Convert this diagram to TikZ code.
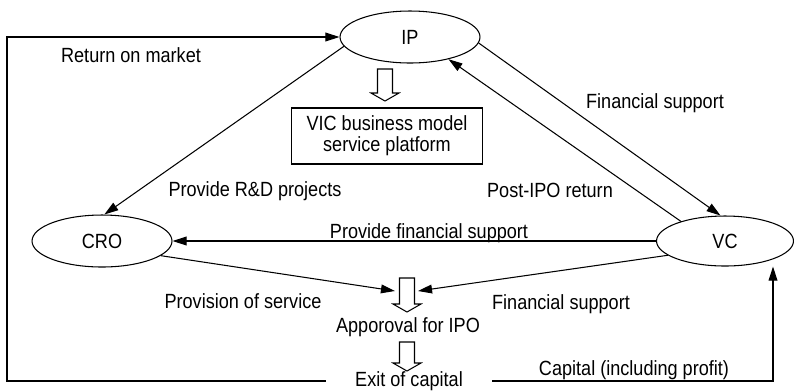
\documentclass[tikz,border=0pt]{standalone}
\usepackage{fontspec}
\setmainfont{Liberation Sans}[FakeStretch=0.88]
\usetikzlibrary{shapes.geometric,arrows.meta,calc}

% down-pointing hollow block arrow, #1 = length
\tikzset{
  pics/hollowdown/.style={code={
    \draw (-7.5,0) -- (-7.5,#1-8) -- (-14,#1-8) -- (0,#1) -- (14,#1-8) -- (7.5,#1-8) -- (7.5,0) -- cycle;
    \coordinate (-l) at (-12,13);
    \coordinate (-r) at (11,13);
  }}
}

\begin{document}
\begin{tikzpicture}[x=0.02cm,y=-0.02cm,line width=0.6pt,>={Triangle[length=8pt,width=5pt]},
    font=\fontsize{11.7}{12}\selectfont,
    party/.style={ellipse,draw,minimum width=2.8cm,minimum height=1.04cm,inner sep=0pt},
    lbl/.style={inner sep=0pt}]
  \useasboundingbox (0,0) rectangle (794,390);

  % actors
  \node[party] (ip) at (410,37) {IP};
  \node[party] (cro) at (102,241) {CRO};
  \node[party,minimum width=2.74cm,minimum height=1cm] (vc) at (725,241) {VC};
  \node[draw,align=center,minimum width=3.82cm,minimum height=1.12cm,inner sep=0pt] (vic) at (387,136)
    {VIC business model\\service platform};

  % flow of the IPO
  \pic (b1) at (385,69) {hollowdown=32};
  \pic (a1) at (407,278) {hollowdown=34};
  \pic (a2) at (407,342) {hollowdown=29};
  \node[lbl] (appr) at (408,327) {Apporoval for IPO};
  \node[lbl,inner xsep=0.58cm] (exit) at (409,381) {Exit of capital};
  \coordinate (corner) at (7,381);

  % connectors
  \draw[->] (exit.west) -- (corner) |- (ip.west);
  \draw[->] (exit.east) -| ($(vc.south)+(48,0)$);
  \draw[->] (ip.188) -- (cro.85);
  \draw[->] (ip.355) -- (vc.100);
  \draw[->] (vc.156) -- (ip.330);
  \draw[->] (vc.west) -- (cro.east);
  \draw[->] (cro.346) -- (a1-l);
  \draw[->] (vc.194) -- (a1-r);

  % labels
  \node[lbl] (lret) at (131,55) {Return on market};
  \node[lbl] (lfin) at (655,103) {Financial support};
  \node[lbl] (lrd) at (255,191) {Provide R\&D projects};
  \node[lbl] (lpost) at (550,190) {Post-IPO return};
  \node[lbl] (lpfs) at (429,233) {Provide financial support};
  \node[lbl] (lserv) at (243,301) {Provision of service};
  \node[lbl] (lfin2) at (561,304) {Financial support};
  \node[lbl] (lcap) at (634,370) {Capital (including profit)};
\end{tikzpicture}
\end{document}
